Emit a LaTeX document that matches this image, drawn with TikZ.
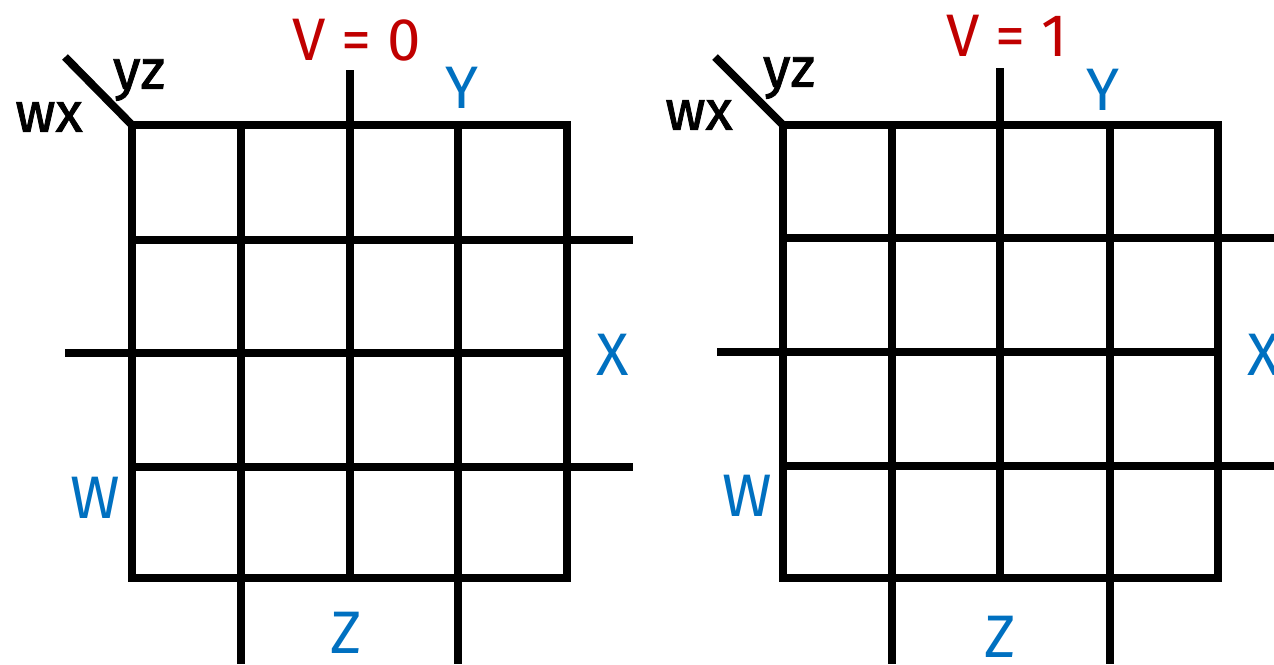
\documentclass[tikz,border=0pt]{standalone}
\usepackage{fontspec}
\setmainfont{Fira Sans}
\newfontfamily\cornerfont{Fira Sans}[FakeBold=1.5]
\definecolor{kred}{HTML}{C00000}
\definecolor{kblue}{HTML}{0070C0}
\begin{document}
\begin{tikzpicture}[x=0.5pt,y=-0.5pt,
  gridline/.style={line width=4pt, black},
  lbl/.style={inner sep=0pt, font=\fontsize{30}{36}\selectfont},
  varlbl/.style={lbl, text=kblue},
  maptitle/.style={lbl, text=kred},
  cornerlbl/.style={inner sep=0pt, font=\cornerfont\fontsize{28}{34}\selectfont}]
\useasboundingbox (0,0) rectangle (1274,664);
\clip (0,0) rectangle (1274,664);
% ---------- left map (V = 0)
\draw[gridline] (132,125) rectangle (567,578);
\draw[gridline] (241,125) -- (241,664);
\draw[gridline] (350,70) -- (350,578);
\draw[gridline] (458,125) -- (458,664);
\draw[gridline] (132,240) -- (633,240);
\draw[gridline] (65,353) -- (567,353);
\draw[gridline] (132,467) -- (633,467);
\draw[gridline] (65,57) -- (132,125);
\node[maptitle] (t0) at (357,40) {V = 0};
\node[varlbl] (y0) at (462,88) {Y};
\node[varlbl] (x0) at (613,355) {X};
\node[varlbl] (w0) at (95,498) {W};
\node[varlbl] (z0) at (346,633) {Z};
\node[cornerlbl] (yz0) at (139,80) {yz};
\node[cornerlbl] (wx0) at (49,117) {wx};
% ---------- right map (V = 1)
\draw[gridline] (783,125) rectangle (1218,578);
\draw[gridline] (892,125) -- (892,664);
\draw[gridline] (1000,68) -- (1000,578);
\draw[gridline] (1110,125) -- (1110,664);
\draw[gridline] (783,238) -- (1290,238);
\draw[gridline] (717,352) -- (1218,352);
\draw[gridline] (783,466) -- (1290,466);
\draw[gridline] (715,57) -- (783,125);
\node[maptitle] (t1) at (1007,36) {V = 1};
\node[varlbl] (y1) at (1103,90) {Y};
\node[varlbl] (x1) at (1264,355) {X};
\node[varlbl] (w1) at (747,496) {W};
\node[varlbl] (z1) at (1000,637) {Z};
\node[cornerlbl] (yz1) at (789,78) {yz};
\node[cornerlbl] (wx1) at (699,115) {wx};
\end{tikzpicture}
\end{document}
